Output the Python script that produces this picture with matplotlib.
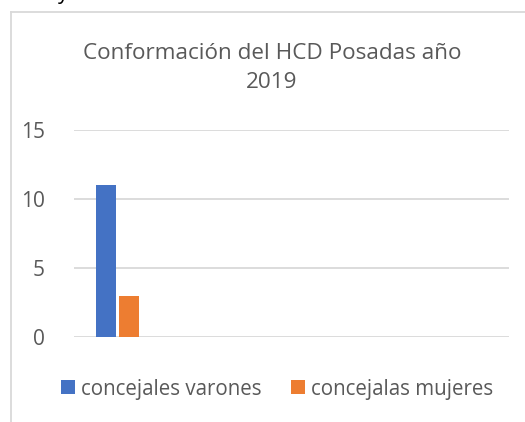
import matplotlib
matplotlib.use("Agg")
import matplotlib.pyplot as plt
import numpy as np
from matplotlib.lines import Line2D

title = "Conformación del HCD Posadas año\n2019"
categories = ["", "", "", "", ""]
series_names = ["concejales varones", "concejalas mujeres"]
varones = [11, np.nan, np.nan, np.nan, np.nan]
mujeres = [3, np.nan, np.nan, np.nan, np.nan]
yticks = [0, 5, 10, 15]
colors = ["#4472C4", "#ED7D31"]

W, H = 525, 422
fig = plt.figure(figsize=(W / 100, H / 100), dpi=100)
fig.patch.set_facecolor("white")
font = "Open Sans"
grey = "#595959"
gridc = "#D9D9D9"

# chart border (partially visible chart frame)
fig.add_artist(Line2D([11 / W, 11 / W], [0, 1 - 12 / H], transform=fig.transFigure, color=gridc, lw=1.3))
fig.add_artist(Line2D([11 / W, 1], [1 - 12 / H, 1 - 12 / H], transform=fig.transFigure, color=gridc, lw=1.3))
# cut-off text fragment above chart
fig.text(58 / W, 1 + 7 / H, "y", fontsize=15, color="black", ha="left", va="center", family=font)

ax = fig.add_axes([74 / W, 85 / H, (509 - 74) / W, (337 - 130) / H])
x = np.arange(len(categories))
bw = 0.23
off = 0.135
ax.bar(x - off, varones, width=bw, color=colors[0], label=series_names[0], zorder=3)
ax.bar(x + off, mujeres, width=bw, color=colors[1], label=series_names[1], zorder=3)
ax.set_xlim(-0.5, len(categories) - 0.5)
ax.set_ylim(0, 15)
ax.set_yticks(yticks)
ax.set_yticklabels([str(v) for v in yticks], fontsize=15, color=grey, family=font)
ax.set_xticks([])
for s in ax.spines.values():
    s.set_visible(False)
ax.tick_params(axis="y", length=0, pad=21)
ax.grid(axis="y", color=gridc, lw=1.3, zorder=0)
ax.set_axisbelow(True)

fig.text(272 / W, 1 - 68 / H, title, ha="center", va="center", fontsize=16.2,
         color=grey, family=font, linespacing=1.55)

leg = fig.legend(loc="center", bbox_to_anchor=(277 / W, 1 - 389 / H), ncol=2, frameon=False,
                 prop={"family": font, "size": 14.8}, handlelength=0.68, handleheight=0.68,
                 handletextpad=0.3, columnspacing=1.4)
for t in leg.get_texts():
    t.set_color(grey)

fig.savefig("out.png", dpi=100)
